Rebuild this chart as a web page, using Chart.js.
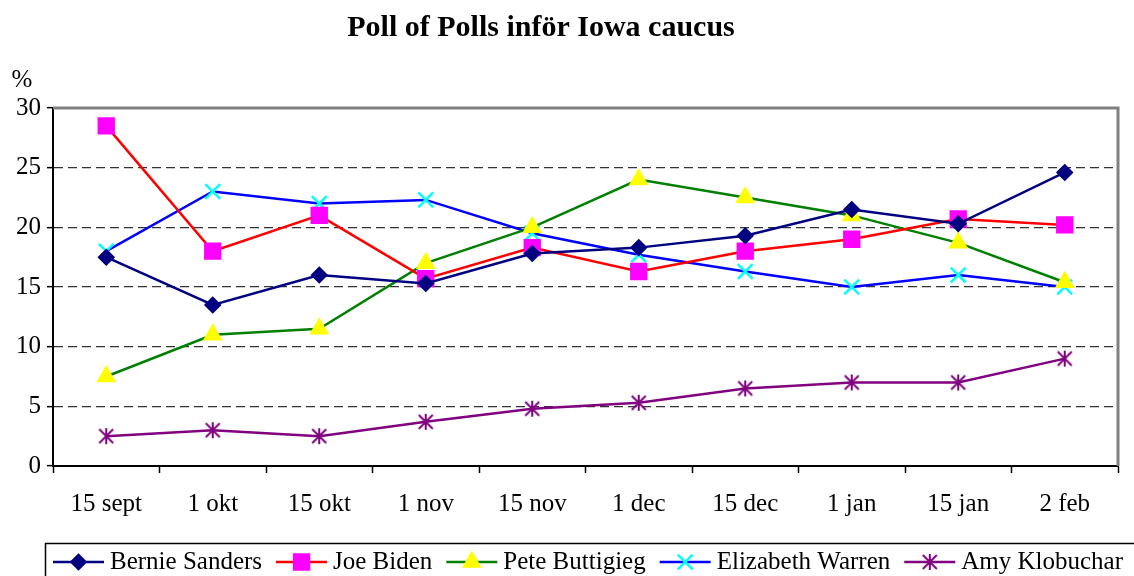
<!DOCTYPE html>
<html>
<head>
<meta charset="utf-8">
<title>Poll of Polls inför Iowa caucus</title>
<script src="https://cdn.jsdelivr.net/npm/chart.js@4/dist/chart.umd.min.js"></script>
<style>
    html, body { margin: 0; padding: 0; background: #fff; }
</style>
</head>
<body>
<canvas id="pollChart" width="1134" height="576"></canvas>
<script>
// Poll data (percent)
const categories = ['15 sept', '1 okt', '15 okt', '1 nov', '15 nov', '1 dec', '15 dec', '1 jan', '15 jan', '2 feb'];
const yTicks = [0, 5, 10, 15, 20, 25, 30];
const sanders = [17.5, 13.5, 16.0, 15.3, 17.8, 18.3, 19.3, 21.5, 20.3, 24.6];
const biden = [28.5, 18.0, 21.0, 15.7, 18.3, 16.3, 18.0, 19.0, 20.7, 20.2];
const buttigieg = [7.5, 11.0, 11.5, 17.0, 20.0, 24.0, 22.5, 21.0, 18.7, 15.4];
const warren = [18.0, 23.0, 22.0, 22.3, 19.5, 17.7, 16.3, 15.0, 16.0, 15.0];
const klobuchar = [2.5, 3.0, 2.5, 3.7, 4.8, 5.3, 6.5, 7.0, 7.0, 9.0];

const chartTitle = 'Poll of Polls inför Iowa caucus';
const serif = '"Liberation Serif", "Times New Roman", serif';

// Asterisk marker (X with a vertical bar), like the Excel star marker
function makeAsterisk(color) {
    const c = document.createElement('canvas');
    c.width = 20;
    c.height = 20;
    const g = c.getContext('2d');
    g.strokeStyle = color;
    g.lineWidth = 2;
    g.beginPath();
    g.moveTo(10, 2); g.lineTo(10, 18);
    g.moveTo(3, 3); g.lineTo(17, 17);
    g.moveTo(17, 3); g.lineTo(3, 17);
    g.stroke();
    return c;
}

function makeSeries(label, data, lineColor, markerColor, style, radius) {
    return {
        label: label,
        data: data,
        borderColor: lineColor,
        borderWidth: 2.5,
        tension: 0,
        pointStyle: style,
        pointRadius: radius,
        pointHoverRadius: radius,
        pointBackgroundColor: markerColor,
        pointBorderColor: markerColor,
        pointBorderWidth: 2.5
    };
}

// Title, gray frame on top and right of the plot, "%" unit label
const framePlugin = {
    id: 'frame',
    beforeDatasetsDraw(chart) {
        const a = chart.chartArea;
        const ctx = chart.ctx;
        ctx.save();
        ctx.strokeStyle = '#808080';
        ctx.lineWidth = 3;
        ctx.beginPath();
        ctx.moveTo(a.left, a.top);
        ctx.lineTo(a.right, a.top);
        ctx.lineTo(a.right, a.bottom);
        ctx.stroke();
        ctx.fillStyle = '#000';
        ctx.textAlign = 'center';
        ctx.textBaseline = 'middle';
        ctx.font = 'bold 30px ' + serif;
        ctx.fillText(chartTitle, 541, 28);
        ctx.font = '25px ' + serif;
        ctx.fillText('%', 22, 80);
        ctx.restore();
    }
};

// Boxed legend at the bottom: line + marker + name
const legendPlugin = {
    id: 'boxLegend',
    afterDraw(chart) {
        const ctx = chart.ctx;
        ctx.save();
        ctx.strokeStyle = '#000';
        ctx.lineWidth = 1.5;
        ctx.strokeRect(45.5, 543.5, 1110, 40);
        ctx.font = '25px ' + serif;
        ctx.textBaseline = 'middle';
        ctx.textAlign = 'left';
        const y = 562;
        let x = 53;
        chart.data.datasets.forEach(ds => {
            ctx.strokeStyle = ds.borderColor;
            ctx.lineWidth = 2.5;
            ctx.beginPath();
            ctx.moveTo(x, y);
            ctx.lineTo(x + 51, y);
            ctx.stroke();
            ctx.fillStyle = ds.pointBackgroundColor;
            ctx.strokeStyle = ds.pointBorderColor;
            ctx.lineWidth = 2.5;
            Chart.helpers.drawPoint(ctx, { pointStyle: ds.pointStyle, radius: ds.pointRadius, borderWidth: 2.5, rotation: 0 }, x + 25.5, y);
            ctx.fillStyle = '#000';
            ctx.fillText(ds.label, x + 57, y);
            x += 57 + ctx.measureText(ds.label).width + 14;
        });
        ctx.restore();
    }
};

function createPollChart() {
    const ctx = document.getElementById('pollChart').getContext('2d');
    new Chart(ctx, {
        type: 'line',
        data: {
            labels: categories,
            datasets: [
                makeSeries('Bernie Sanders', sanders, '#000080', '#000080', 'rectRot', 7),
                makeSeries('Joe Biden', biden, '#FF0000', '#FF00FF', 'rect', 10.5),
                makeSeries('Pete Buttigieg', buttigieg, '#008000', '#FFFF00', 'triangle', 9),
                makeSeries('Elizabeth Warren', warren, '#0000FF', '#00FFFF', 'crossRot', 10.5),
                makeSeries('Amy Klobuchar', klobuchar, '#800080', '#800080', makeAsterisk('#800080'), 8)
            ]
        },
        options: {
            responsive: false,
            animation: false,
            layout: { padding: { left: 0, right: 16, top: 108, bottom: 40 } },
            plugins: {
                legend: { display: false },
                tooltip: { enabled: false },
                title: { display: false }
            },
            scales: {
                x: {
                    offset: true,
                    grid: { drawOnChartArea: false, offset: true, tickLength: 7, tickColor: '#000', tickWidth: 1.5 },
                    border: { color: '#000', width: 2 },
                    ticks: { color: '#000', font: { family: serif, size: 25 }, padding: 16, maxRotation: 0 },
                    afterFit(scale) { scale.height = 70; }
                },
                y: {
                    min: 0,
                    max: 30,
                    afterBuildTicks(scale) { scale.ticks = yTicks.map(v => ({ value: v })); },
                    grid: {
                        color: c => (c.tick && (c.tick.value === 0 || c.tick.value === 30)) ? 'rgba(0,0,0,0)' : '#333',
                        lineWidth: 1.3,
                        tickLength: 6,
                        tickColor: '#000',
                        tickWidth: 1.5,
                        tickBorderDash: []
                    },
                    border: { color: '#000', width: 2, dash: [9, 5] },
                    ticks: { color: '#000', font: { family: serif, size: 25 }, padding: 6 },
                    afterFit(scale) { scale.width = 53; }
                }
            }
        },
        plugins: [framePlugin, legendPlugin]
    });
}

document.addEventListener('DOMContentLoaded', () => {
    createPollChart();
});
</script>
</body>
</html>
